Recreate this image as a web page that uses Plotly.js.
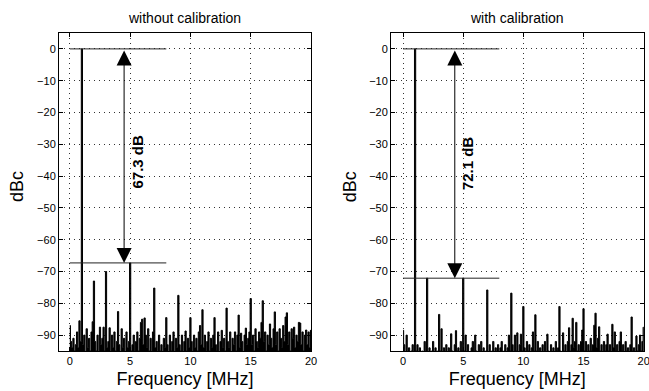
<!DOCTYPE html>
<html><head><meta charset="utf-8">
<script src="https://cdn.plot.ly/plotly-3.0.1.min.js"></script>
<style>html,body{margin:0;padding:0;background:#fff}#chart{width:649px;height:391px}</style>
</head><body><div id="chart"></div>
<script>
// Frequency grid [MHz]
const freq = [0,0.1,0.2,0.3,0.4,0.5,0.6,0.7,0.8,0.9,1,1.1,1.2,1.3,1.4,1.5,1.6,1.7,1.8,1.9,2,2.1,2.2,2.3,2.4,2.5,2.6,2.7,2.8,2.9,3,3.1,3.2,3.3,3.4,3.5,3.6,3.7,3.8,3.9,4,4.1,4.2,4.3,4.4,4.5,4.6,4.7,4.8,4.9,5,5.1,5.2,5.3,5.4,5.5,5.6,5.7,5.8,5.9,6,6.1,6.2,6.3,6.4,6.5,6.6,6.7,6.8,6.9,7,7.1,7.2,7.3,7.4,7.5,7.6,7.7,7.8,7.9,8,8.1,8.2,8.3,8.4,8.5,8.6,8.7,8.8,8.9,9,9.1,9.2,9.3,9.4,9.5,9.6,9.7,9.8,9.9,10,10.1,10.2,10.3,10.4,10.5,10.6,10.7,10.8,10.9,11,11.1,11.2,11.3,11.4,11.5,11.6,11.7,11.8,11.9,12,12.1,12.2,12.3,12.4,12.5,12.6,12.7,12.8,12.9,13,13.1,13.2,13.3,13.4,13.5,13.6,13.7,13.8,13.9,14,14.1,14.2,14.3,14.4,14.5,14.6,14.7,14.8,14.9,15,15.1,15.2,15.3,15.4,15.5,15.6,15.7,15.8,15.9,16,16.1,16.2,16.3,16.4,16.5,16.6,16.7,16.8,16.9,17,17.1,17.2,17.3,17.4,17.5,17.6,17.7,17.8,17.9,18,18.1,18.2,18.3,18.4,18.5,18.6,18.7,18.8,18.9,19,19.1,19.2,19.3,19.4,19.5,19.6,19.7,19.8,19.9,20];

// Spectrum without calibration [dBc]
const specWithout = [-87,-92,-94,-91,-95,-93,-89,-94,-85.5,-92,0,-93,-90,-96,-88,-94,-91,-95,-89,-85.8,
-73,-92,-95,-90,-96,-87.5,-93,-91,-87.5,-95,-70,-94,-92,-87.7,-96,-90,-94,-89,-95,-92,
-82.6,-93,-96,-88,-94,-91,-97,-89,-94,-92,-67.3,-95,-93,-90,-96,-92,-89,-95,-91,-86,
-85,-93,-84.6,-90,-94,-88,-95,-91,-96,-89,-75.2,-94,-92,-97,-90,-95,-93,-96,-91,-94,
-84.5,-93,-96,-90,-95,-92,-89,-96,-91,-94,-77.5,-93,-95,-90,-96,-92,-88.7,-95,-91,-94,
-84.5,-92,-96,-90,-94,-91,-95,-89,-87,-93,-82,-94,-90,-96,-92,-89,-95,-91,-94,-90,
-84.5,-93,-95,-89,-96,-92,-88.5,-94,-91,-95,-81.5,-92,-94,-89,-96,-91,-93,-89,-95,-90,
-83.7,-94,-89.4,-92,-96,-90,-87.8,-93,-91,-89,-78.5,-93,-90,-95,-88,-92,-94,-89,-91,-86,
-79.2,-92,-89,-95,-90,-93,-86.5,-91,-94,-88,-82.7,-93,-89,-95,-88,-91,-94,-87,-92,-84.3,
-83,-93,-89,-95,-88,-91,-87.5,-94,-90,-92,-86,-86.2,-93,-89,-95,-90,-88.4,-93,-89,-94,-88.5];

// Spectrum with calibration [dBc]
const specWith = [-88.5,-93,-96,-90,-96,-94,-97,-95,-93,-96,0,-95,-93,-97,-94,-96,-95,-98,-92,-96,
-72.1,-96,-94,-97,-95,-92,-96,-94,-97,-95,-83.5,-95,-88,-96,-94,-97,-93,-96,-94,-96,
-89.6,-95,-97,-93,-88.6,-95,-94,-96,-92,-95,-72.1,-95,-90,-96,-93,-96,-97,-94,-92,-96,
-90,-95,-97,-93,-96,-92,-96,-94,-97,-95,-75.8,-96,-93,-97,-95,-92,-96,-94,-96,-93,
-96,-94,-92,-97,-95,-93,-96,-94,-90,-95,-76.8,-93,-96,-90,-95,-89.3,-96,-93,-89.7,-95,
-81,-94,-96,-92,-95,-93,-97,-94,-89,-95,-83.6,-95,-92,-96,-94,-97,-93,-96,-92,-96,
-89.7,-95,-97,-93,-96,-94,-97,-92,-95,-94,-81,-95,-96,-89.3,-95,-93,-96,-92,-87.7,-95,
-93,-84.7,-94,-92,-86,-95,-93,-96,-92,-88.4,-81.7,-95,-92,-96,-93,-95,-91,-95,-93,-86.9,
-83.1,-94,-91,-87.4,-95,-93,-96,-92,-95,-93,-89.7,-95,-93,-96,-86.6,-94,-89,-95,-93,-96,
-92,-89,-95,-93,-96,-92,-95,-94,-97,-93,-84.3,-95,-94,-96,-90.3,-95,-93,-90,-95,-92,-87.5];

const panelTitles = ['without calibration', 'with calibration'];
const yTitle = 'dBc';
const xTitle = 'Frequency [MHz]';
const xTickVals = [0, 5, 10, 15, 20];
const yTickVals = [0, -10, -20, -30, -40, -50, -60, -70, -80, -90];
const yRange = [-95, 5];
const markerSpan = [0, 8];          // MHz extent of reference lines
const carrierLevel = 0;              // dBc
const worstSpur = [-67.3, -72.1];    // dBc
const arrowFreq = [4.5, 4.3];        // MHz
const labelFreq = [5.6, 5.35];
const labelLevel = [-35.3, -35.8];
const sfdrLabels = ['67.3 dB', '72.1 dB'];

const FONT = 'Liberation Sans, Arial, Helvetica, sans-serif';

function xax(domain, range, anchor) {
  return {
    domain: domain, range: range, anchor: anchor,
    tickmode: 'array', tickvals: xTickVals, ticklabeloverflow: 'allow',
    showgrid: true, gridcolor: '#333', griddash: '1px,4px', gridwidth: 1,
    showline: true, mirror: 'ticks', linecolor: '#000', linewidth: 1,
    ticks: 'inside', ticklen: 4, tickcolor: '#000', zeroline: false,
    tickfont: {size: 11, color: '#000'},
    title: {text: xTitle, font: {size: 18, color: '#000'}, standoff: 6}
  };
}
function yax(domain, anchor) {
  return {
    domain: domain, range: yRange, anchor: anchor,
    tickmode: 'array', tickvals: yTickVals,
    showgrid: true, gridcolor: '#333', griddash: '1px,4px', gridwidth: 1,
    showline: true, mirror: 'ticks', linecolor: '#000', linewidth: 1,
    ticks: 'inside', ticklen: 4, tickcolor: '#000', zeroline: false,
    tickfont: {size: 11, color: '#000'}
  };
}

// Close each spectrum polygon below the visible axis floor so the area under it fills
function spectrumTrace(vals, xa, ya) {
  const lo = yRange[0] - 10;
  return {
    x: freq.concat([freq[freq.length - 1], freq[0]]),
    y: vals.concat([lo, lo]),
    xaxis: xa, yaxis: ya, type: 'scatter', mode: 'lines',
    fill: 'toself', fillcolor: '#000',
    line: {color: '#000', width: 1, shape: 'hvh'}, hoverinfo: 'skip'
  };
}

const traces = [
  spectrumTrace(specWithout, 'x', 'y'),
  spectrumTrace(specWith, 'x2', 'y2')
];

const axesIds = [['x', 'y'], ['x2', 'y2']];
const shapes = [];
const annotations = [];
const titleX = [0.285, 0.797];
const yTitleX = [0.0254, 0.539];
axesIds.forEach(function (ids, k) {
  [carrierLevel, worstSpur[k]].forEach(function (lvl) {
    shapes.push({type: 'line', xref: ids[0], yref: ids[1], x0: markerSpan[0], x1: markerSpan[1],
      y0: lvl, y1: lvl, line: {color: '#222', width: 1}});
  });
  annotations.push({xref: ids[0], yref: ids[1], axref: ids[0], ayref: ids[1],
    x: arrowFreq[k], y: worstSpur[k], ax: arrowFreq[k], ay: carrierLevel,
    showarrow: true, arrowside: 'end+start', arrowhead: 2, startarrowhead: 2,
    arrowsize: 3, startarrowsize: 3, arrowwidth: 1, arrowcolor: '#000', standoff: 0, startstandoff: 0, text: ''});
  annotations.push({xref: ids[0], yref: ids[1], x: labelFreq[k], y: labelLevel[k],
    text: '<b>' + sfdrLabels[k] + '</b>', textangle: -90, showarrow: false,
    font: {size: 15, color: '#000', family: FONT}});
  annotations.push({xref: 'paper', yref: 'paper', x: titleX[k], y: 0.954, xanchor: 'center', yanchor: 'middle',
    text: panelTitles[k], showarrow: false, font: {size: 14, color: '#000', family: FONT}});
  annotations.push({xref: 'paper', yref: 'paper', x: yTitleX[k], y: 0.523, xanchor: 'center', yanchor: 'middle',
    text: yTitle, textangle: -90, showarrow: false, font: {size: 18, color: '#000', family: FONT}});
});

const layout = {
  width: 649, height: 391, autosize: false,
  margin: {l: 0, r: 0, t: 0, b: 0},
  paper_bgcolor: '#fff', plot_bgcolor: '#fff',
  font: {family: FONT, color: '#000'},
  showlegend: false,
  xaxis: xax([0.0909, 0.4792], [-0.9, 20], 'y'),
  yaxis: yax([0.1023, 0.9156], 'x'),
  xaxis2: xax([0.6025, 0.9918], [-1.0, 20], 'y2'),
  yaxis2: yax([0.1023, 0.9156], 'x2'),
  shapes: shapes,
  annotations: annotations
};

Plotly.newPlot('chart', traces, layout, {staticPlot: true, displayModeBar: false});
</script></body></html>
